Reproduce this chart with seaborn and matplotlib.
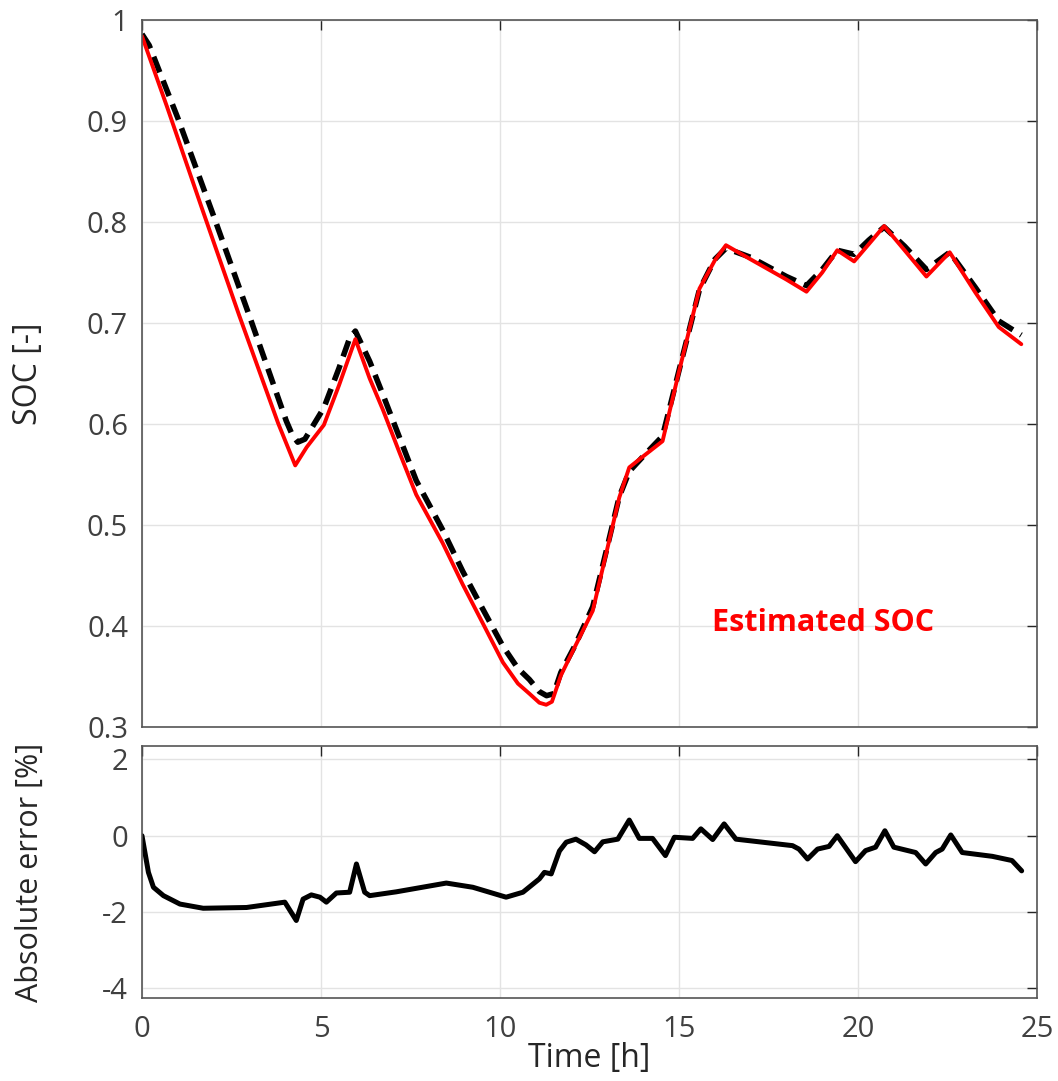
import numpy as np
import pandas as pd
import seaborn as sns
import matplotlib
matplotlib.use("Agg")
import matplotlib.pyplot as plt

# Estimated SOC (red)
est_time = [0, 0.7, 1.66, 2.71, 3.8, 4.28, 4.6, 5.08, 5.5, 5.96, 6.36, 6.73, 7.2,
            7.66, 8.4, 8.96, 9.5, 10.08, 10.5, 10.82, 11.1, 11.29, 11.45, 11.7, 12.1,
            12.59, 13.0, 13.33, 13.61, 14.0, 14.54, 15.0, 15.57, 16.0, 16.31, 17.0,
            18.0, 18.56, 19.0, 19.42, 19.89, 20.3, 20.73, 21.3, 21.91, 22.56, 23.28,
            23.93, 24.56]
est_soc = [0.984, 0.914, 0.815, 0.708, 0.601, 0.559, 0.577, 0.599, 0.638, 0.684,
           0.645, 0.614, 0.571, 0.530, 0.482, 0.441, 0.404, 0.364, 0.343, 0.333,
           0.324, 0.322, 0.325, 0.351, 0.380, 0.415, 0.477, 0.527, 0.557, 0.568,
           0.583, 0.652, 0.734, 0.762, 0.777, 0.763, 0.743, 0.731, 0.75, 0.772,
           0.761, 0.778, 0.796, 0.772, 0.746, 0.770, 0.730, 0.696, 0.679]

# True SOC (black dashed)
true_time = [0, 0.2, 1.0, 2.0, 3.0, 4.03, 4.2, 4.35, 4.55, 5.08, 5.5, 5.8, 5.96,
             6.36, 6.73, 7.2, 7.66, 8.4, 8.96, 9.5, 10.08, 10.5, 10.82, 11.1, 11.3,
             11.5, 11.7, 12.1, 12.59, 13.0, 13.33, 13.61, 14.0, 14.54, 15.0, 15.57,
             16.0, 16.31, 17.0, 18.0, 18.56, 19.0, 19.42, 19.89, 20.3, 20.73, 21.3,
             21.91, 22.56, 23.28, 23.93, 24.56]
true_soc = [0.986, 0.975, 0.903, 0.806, 0.707, 0.603, 0.589, 0.582, 0.585, 0.616,
            0.655, 0.685, 0.692, 0.662, 0.629, 0.586, 0.544, 0.495, 0.454, 0.418,
            0.380, 0.358, 0.347, 0.335, 0.331, 0.333, 0.354, 0.381, 0.419, 0.479,
            0.528, 0.553, 0.568, 0.588, 0.653, 0.733, 0.763, 0.774, 0.765, 0.746,
            0.737, 0.753, 0.772, 0.768, 0.782, 0.795, 0.776, 0.753, 0.770, 0.735,
            0.702, 0.688]

# absolute error [%]
err_time = [0, 0.18, 0.32, 0.6, 1.06, 1.71, 2.92, 3.99, 4.31, 4.5, 4.73, 4.97, 5.15,
            5.43, 5.8, 5.99, 6.22, 6.36, 7.1, 8.5, 9.24, 10.17, 10.64, 11.1, 11.24,
            11.43, 11.66, 11.85, 12.12, 12.4, 12.64, 12.87, 13.29, 13.61, 13.89,
            14.26, 14.62, 14.87, 15.38, 15.61, 15.94, 16.26, 16.59, 18.17, 18.35,
            18.59, 18.87, 19.19, 19.42, 19.93, 20.21, 20.49, 20.75, 21.0, 21.61,
            21.89, 22.17, 22.35, 22.59, 22.91, 23.75, 24.3, 24.57]
err_val = [0, -0.96, -1.35, -1.57, -1.79, -1.9, -1.88, -1.74, -2.22, -1.66, -1.55,
           -1.61, -1.74, -1.5, -1.48, -0.74, -1.48, -1.57, -1.47, -1.24, -1.35,
           -1.61, -1.48, -1.13, -0.96, -1.0, -0.4, -0.17, -0.09, -0.24, -0.42,
           -0.16, -0.09, 0.41, -0.07, -0.07, -0.52, -0.04, -0.07, 0.18, -0.1, 0.31,
           -0.09, -0.26, -0.35, -0.61, -0.35, -0.28, 0.0, -0.68, -0.39, -0.3, 0.13,
           -0.3, -0.44, -0.74, -0.44, -0.35, 0.02, -0.44, -0.54, -0.65, -0.92]

x_ticks = [0, 5, 10, 15, 20, 25]
soc_ticks = [0.3, 0.4, 0.5, 0.6, 0.7, 0.8, 0.9, 1]
soc_labels = ['0.3', '0.4', '0.5', '0.6', '0.7', '0.8', '0.9', '1']
err_ticks = [-4, -2, 0, 2]

sns.set_style("whitegrid")
plt.rcParams['font.family'] = ['Open Sans', 'DejaVu Sans']
plt.rcParams['axes.unicode_minus'] = False

est_df = pd.DataFrame({'t': est_time, 'soc': est_soc})
true_df = pd.DataFrame({'t': true_time, 'soc': true_soc})
err_df = pd.DataFrame({'t': err_time, 'err': err_val})

fig = plt.figure(figsize=(10.58, 10.81), dpi=100)
ax1 = fig.add_axes([0.1342, 0.3275, 0.846, 0.654])
ax2 = fig.add_axes([0.1342, 0.0768, 0.846, 0.2331])

sns.lineplot(data=true_df, x='t', y='soc', ax=ax1, color='black', lw=4,
             linestyle=(0, (3.0, 1.6)))
sns.lineplot(data=est_df, x='t', y='soc', ax=ax1, color='#ff0000', lw=2.8,
             solid_joinstyle='round')
sns.lineplot(data=err_df, x='t', y='err', ax=ax2, color='black', lw=3.6,
             solid_joinstyle='round', solid_capstyle='round')

ax1.text(19.02, 0.403, 'Estimated SOC', color='#ff0000', fontsize=22,
         fontweight='bold', ha='center', va='center')

for ax in (ax1, ax2):
    ax.set_xlim(0, 25)
    ax.set_xticks(x_ticks)
    ax.grid(True, color='#e3e3e3', lw=1)
    ax.tick_params(direction='in', length=7, width=1, colors='#262626',
                   top=True, right=True, labelsize=21, labelcolor='#404040')
    for s in ax.spines.values():
        s.set_color('#555555')
        s.set_linewidth(1.2)
        s.set_visible(True)

ax1.set_ylim(0.3, 1.0)
ax1.set_yticks(soc_ticks)
ax1.set_yticklabels(soc_labels)
ax1.set_xticklabels([])
ax1.set_xlabel('')
ax1.set_ylabel('SOC [-]', fontsize=23, color='#262626')
ax1.yaxis.set_label_coords(-0.108, 0.5)

ax2.set_ylim(-4.25, 2.35)
ax2.set_yticks(err_ticks)
ax2.set_xticklabels([str(v) for v in x_ticks])
ax2.set_xlabel('Time [h]', fontsize=23, color='#262626', labelpad=-1)
ax2.set_ylabel('Absolute error [%]', fontsize=22, color='#262626')
ax2.yaxis.set_label_coords(-0.108, 0.5)
ax2.tick_params(axis='x', pad=12)
ax2.tick_params(axis='y', pad=10)
ax1.tick_params(axis='y', pad=10)

fig.savefig('out.png', dpi=100)
